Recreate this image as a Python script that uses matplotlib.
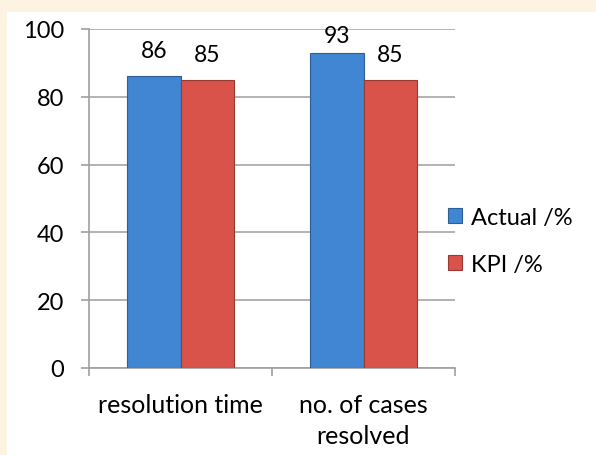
import matplotlib
matplotlib.use("Agg")
import matplotlib.pyplot as plt
import numpy as np
from matplotlib.patches import Rectangle

categories = ["resolution time", "no. of cases\nresolved"]
actual = [86, 93]
kpi = [85, 85]
series_names = ["Actual /%", "KPI /%"]
yticks = [0, 20, 40, 60, 80, 100]

plt.rcParams['font.family'] = ['Lato', 'DejaVu Sans']

fig = plt.figure(figsize=(5.96, 4.56), dpi=100)
fig.patch.set_facecolor('#FDF3E2')
panel = Rectangle((7/596, 0), 1 - 7/596, 1 - 13/456, transform=fig.transFigure,
                  facecolor='white', edgecolor='none', zorder=-5)
fig.add_artist(panel)

ax = fig.add_axes([89/596, 1 - 369/456, (455 - 89)/596, (369 - 30)/456])
ax.set_facecolor('none')

x = np.arange(len(categories))
w = 0.29
blue = '#4186D3'
red = '#D9534A'
b1 = ax.bar(x - w/2, actual, w, color=blue, edgecolor='#2E5E98', linewidth=0.8, label=series_names[0], zorder=3)
b2 = ax.bar(x + w/2, kpi, w, color=red, edgecolor='#973A33', linewidth=0.8, label=series_names[1], zorder=3)

ax.set_xlim(-0.5, 1.5)
ax.set_ylim(0, 100)

# labels above bars, kept inside the chart area like Excel does
fig.canvas.draw()
top_limit_px = fig.bbox.height - 47  # text bottom may not go above this (display coords)
for bars, vals in ((b1, actual), (b2, kpi)):
    for r, v in zip(bars, vals):
        xc = r.get_x() + r.get_width()/2
        bar_top = ax.transData.transform((xc, v))[1]
        off_px = min(15, top_limit_px - bar_top)
        ax.annotate(str(v), (xc, v), xytext=(0, off_px * 0.72),
                    textcoords='offset points', ha='center', va='bottom', fontsize=16.5, color='black')

ax.set_yticks(yticks)
ax.set_xticks([-0.5, 0.5, 1.5], minor=False)
ax.set_xticklabels([])
ax.set_xticks(x, minor=True)
ax.set_xticklabels(categories, minor=True, fontsize=18, linespacing=1.4)
ax.tick_params(axis='x', which='minor', length=0, pad=18)
ax.tick_params(axis='x', which='major', length=6, color='#A0A0A0', width=1.2)
ax.tick_params(axis='y', length=6, color='#A0A0A0', width=1.2, labelsize=17, pad=12)
ax.yaxis.grid(True, color='#A6A6A6', linewidth=1.2, zorder=0)
ax.set_axisbelow(True)
for s in ('top', 'right'):
    ax.spines[s].set_visible(False)
for s in ('left', 'bottom'):
    ax.spines[s].set_color('#A0A0A0')
    ax.spines[s].set_linewidth(1.2)

leg = ax.legend(loc='center left', bbox_to_anchor=(436/596, 1 - 242/456), bbox_transform=fig.transFigure,
                frameon=False, fontsize=17, handlelength=0.62, handleheight=0.62, handletextpad=0.35,
                labelspacing=1.1, borderpad=0)

fig.savefig('out.png', dpi=100, facecolor=fig.get_facecolor())
